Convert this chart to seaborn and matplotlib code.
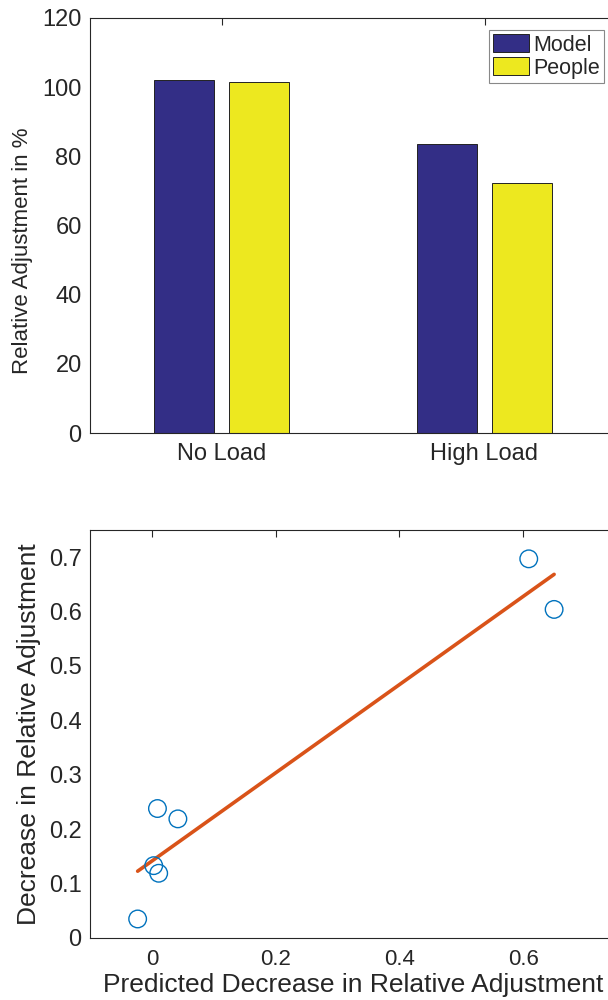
import numpy as np
import pandas as pd
import matplotlib
matplotlib.use("Agg")
import matplotlib.pyplot as plt
import seaborn as sns

# ---- data ----
conditions = ["No Load", "High Load"]
model_values = [102.2, 83.5]
people_values = [101.4, 72.3]
series_names = ["Model", "People"]

predicted_decrease = [0.609, 0.650, 0.009, 0.042, 0.003, 0.011, -0.023]
observed_decrease = [0.697, 0.604, 0.238, 0.219, 0.133, 0.119, 0.035]

y1_ticks = [0, 20, 40, 60, 80, 100, 120]
x2_ticks = [0, 0.2, 0.4, 0.6]
x2_ticklabels = ["0", "0.2", "0.4", "0.6"]
y2_ticks = [0, 0.1, 0.2, 0.3, 0.4, 0.5, 0.6, 0.7]
y2_ticklabels = ["0", "0.1", "0.2", "0.3", "0.4", "0.5", "0.6", "0.7"]

# ---- style ----
sns.set_theme(style="white")
TXT = "#262626"
plt.rcParams["font.family"] = ["Liberation Sans", "DejaVu Sans"]
plt.rcParams.update({
    "axes.edgecolor": TXT,
    "axes.linewidth": 0.8,
    "xtick.color": TXT,
    "ytick.color": TXT,
    "text.color": TXT,
    "axes.labelcolor": TXT,
    "xtick.direction": "in",
    "ytick.direction": "in",
})

fig = plt.figure(figsize=(6.08, 10.0), dpi=100)

# ---- top: bar chart ----
ax1 = fig.add_axes([90 / 608, 1 - 433 / 1000, 526 / 608, 415 / 1000])
df = pd.DataFrame({
    "condition": conditions * 2,
    "value": model_values + people_values,
    "source": [series_names[0]] * 2 + [series_names[1]] * 2,
})
sns.barplot(data=df, x="condition", y="value", hue="source", ax=ax1,
            palette=["#332e86", "#ede81f"], width=0.57, gap=0.19,
            edgecolor="#222222", linewidth=0.7, saturation=1, errorbar=None)
ax1.set_xlim(-0.5, 1.5)
ax1.set_ylim(0, 120)
ax1.set_yticks(y1_ticks)
ax1.set_xlabel("")
ax1.set_ylabel("Relative Adjustment in %", fontsize=16)
ax1.yaxis.set_label_coords(-0.108, 0.44)
ax1.tick_params(axis="both", labelsize=17, length=5, width=0.8,
                top=True, right=True, pad=6)
ax1.tick_params(axis="x", pad=7)
for s in ax1.spines.values():
    s.set_visible(True)
    s.set_color(TXT)
    s.set_linewidth(0.8)
leg = ax1.legend(loc="upper right", bbox_to_anchor=(604 / 608, 1 - 30 / 1000),
                 bbox_transform=fig.transFigure, borderaxespad=0,
                 fontsize=15.5, frameon=True, fancybox=False, framealpha=1,
                 edgecolor="#888888", handlelength=1.65, handleheight=0.9,
                 handletextpad=0.2, borderpad=0.2, labelspacing=0.08)
leg.get_frame().set_linewidth(0.8)

# ---- bottom: scatter + fit ----
ax2 = fig.add_axes([90 / 608, 1 - 938 / 1000, 526 / 608, 408 / 1000])
sns.scatterplot(x=predicted_decrease, y=observed_decrease, ax=ax2,
                marker="o", s=160, facecolor="none", edgecolor="#0072bd",
                linewidth=1.0, zorder=3)
sns.regplot(x=predicted_decrease, y=observed_decrease, ax=ax2,
            scatter=False, ci=None, truncate=True,
            line_kws=dict(color="#d95319", lw=2.6, zorder=2))
ax2.set_xlim(-0.1, 0.75)
ax2.set_ylim(0, 0.75)
ax2.set_xticks(x2_ticks)
ax2.set_xticklabels(x2_ticklabels)
ax2.set_yticks(y2_ticks)
ax2.set_yticklabels(y2_ticklabels)
ax2.set_xlabel("Predicted Decrease in Relative Adjustment", fontsize=19)
ax2.set_ylabel("Decrease in Relative Adjustment", fontsize=19)
ax2.yaxis.set_label_coords(-0.093, 0.5)
ax2.xaxis.set_label_coords(0.5, -0.086)
ax2.tick_params(axis="both", labelsize=17, length=5, width=0.8,
                top=True, right=True, pad=6)
ax2.tick_params(axis="x", labelsize=16, pad=8)
for s in ax2.spines.values():
    s.set_visible(True)
    s.set_color(TXT)
    s.set_linewidth(0.8)

fig.savefig("out.png", dpi=100)
